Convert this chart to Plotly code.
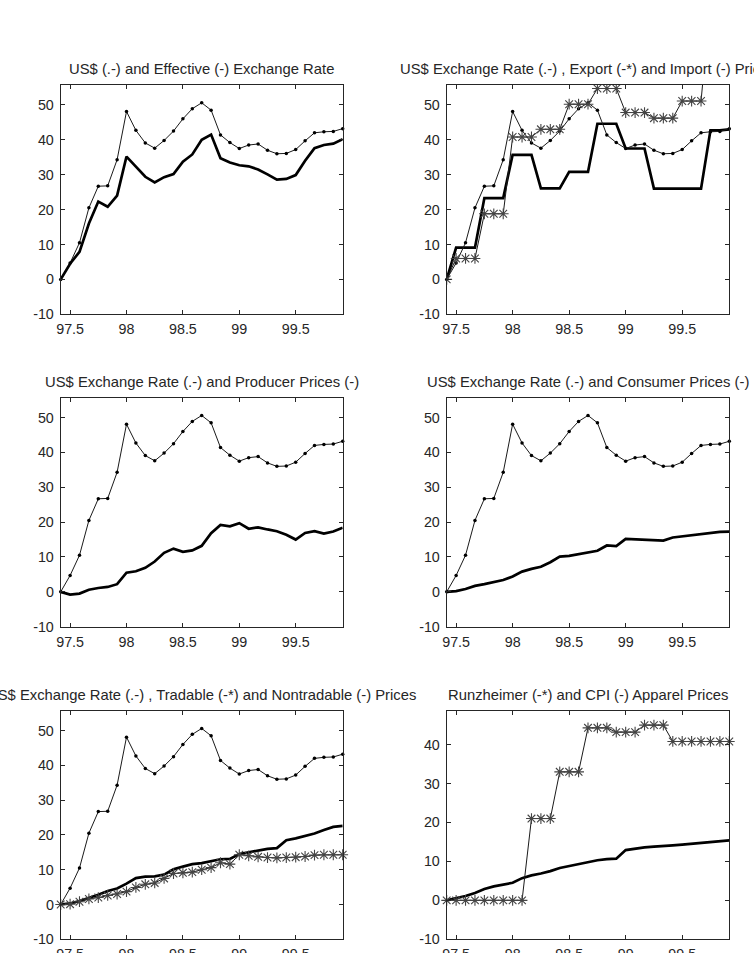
import plotly.graph_objects as go

# ---------------- data ----------------
months = [97.4167, 97.5, 97.5833, 97.6667, 97.75, 97.8333, 97.9167,
          98.0, 98.0833, 98.1667, 98.25, 98.3333, 98.4167, 98.5, 98.5833,
          98.6667, 98.75, 98.8333, 98.9167, 99.0, 99.0833, 99.1667, 99.25,
          99.3333, 99.4167, 99.5, 99.5833, 99.6667, 99.75, 99.8333, 99.9167]

us_rate = [0, 4.7, 10.5, 20.5, 26.7, 26.8, 34.3, 48.1, 42.7, 39.1, 37.6, 39.8,
           42.5, 46.0, 48.9, 50.6, 48.5, 41.4, 39.2, 37.5, 38.5, 38.8, 37.0,
           36.0, 36.1, 37.2, 39.7, 42.0, 42.3, 42.4, 43.2]

effective_rate = [0, 4.5, 7.9, 16.0, 22.3, 20.8, 24.0, 35.2, 32.3, 29.4, 27.8,
                  29.3, 30.2, 33.7, 35.8, 40.0, 41.5, 34.7, 33.5, 32.7, 32.4,
                  31.5, 30.1, 28.6, 28.8, 29.9, 34.0, 37.6, 38.5, 38.9, 40.2]

export_prices = [0, 6.0, 6.0, 6.0, 18.8, 18.8, 18.8, 40.8, 40.8, 40.8, 43.0,
                 43.0, 43.0, 50.2, 50.2, 50.2, 54.7, 54.7, 54.7, 47.8, 47.8,
                 47.8, 46.2, 46.2, 46.2, 51.1, 51.1, 51.1, 80.0, 80.0, 80.0]

import_prices = [0, 9.1, 9.1, 9.1, 23.3, 23.3, 23.3, 35.7, 35.7, 35.7, 26.1,
                 26.1, 26.1, 30.8, 30.8, 30.8, 44.6, 44.6, 44.6, 37.5, 37.5,
                 37.5, 26.0, 26.0, 26.0, 26.0, 26.0, 26.0, 42.7, 42.7, 43.0]

producer_prices = [0, -0.8, -0.5, 0.6, 1.1, 1.4, 2.2, 5.5, 5.9, 6.9, 8.7,
                   11.2, 12.4, 11.5, 11.9, 13.2, 16.8, 19.2, 18.8, 19.7, 18.1,
                   18.5, 17.9, 17.4, 16.4, 15.0, 16.9, 17.4, 16.7, 17.3, 18.4]

consumer_prices = [0, 0.2, 0.8, 1.7, 2.2, 2.8, 3.4, 4.4, 5.8, 6.6, 7.2, 8.5,
                   10.1, 10.3, 10.8, 11.2, 11.8, 13.3, 13.1, 15.2, 15.1, 14.9,
                   14.7, 14.7, 15.6, 15.9, 16.2, 16.7, 17.0, 17.2, 17.3]

tradable_prices = [0, 0.1, 0.8, 1.6, 2.0, 2.6, 3.0, 3.7, 4.9, 5.8, 6.2, 7.5,
                   8.9, 9.1, 9.3, 10.0, 10.6, 12.0, 11.6, 14.3, 14.0, 13.7,
                   13.5, 13.4, 13.5, 13.6, 13.8, 14.2, 14.3, 14.3, 14.3]

nontradable_prices = [0, 0.3, 1.0, 1.8, 2.8, 3.9, 4.6, 6.0, 7.6, 8.0, 8.1,
                      8.6, 10.1, 10.9, 11.6, 11.9, 12.5, 13.0, 13.1, 14.5,
                      15.0, 15.6, 16.0, 16.2, 18.5, 19.0, 19.6, 20.4, 21.4,
                      22.3, 22.6]

runzheimer_apparel = [0, 0, 0, 0, 0, 0, 0, 0, 0, 21.0, 21.0, 21.0, 33.0,
                      33.0, 33.0, 44.3, 44.3, 44.3, 43.2, 43.2, 43.2, 45.0,
                      45.0, 45.0, 40.8, 40.8, 40.8, 40.8, 40.8, 40.8, 40.8]

cpi_apparel = [0, 0.5, 1.1, 1.9, 2.9, 3.6, 4.0, 4.5, 5.7, 6.4, 6.9, 7.5, 8.3,
               8.8, 9.3, 9.8, 10.3, 10.6, 10.7, 12.9, 13.3, 13.6, 13.8, 13.9,
               14.1, 14.3, 14.5, 14.7, 14.9, 15.1, 15.4]

x_tickvals = [97.5, 98, 98.5, 99, 99.5]
x_ticktext = ["97.5", "98", "98.5", "99", "99.5"]
y_tickvals = [-10, 0, 10, 20, 30, 40, 50]
y_ticktext = ["-10", "0", "10", "20", "30", "40", "50"]

titles = [
    "US$ (.-) and Effective (-) Exchange Rate",
    "US$ Exchange Rate (.-) , Export (-*) and Import (-) Prices",
    "US$ Exchange Rate (.-) and Producer Prices (-)",
    "US$ Exchange Rate (.-) and Consumer Prices (-)",
    "US$ Exchange Rate (.-) , Tradable (-*) and Nontradable (-) Prices",
    "Runzheimer (-*) and CPI (-) Apparel Prices",
]

# ---------------- layout geometry ----------------
W, H = 754, 953
col_px = [(60.7, 342.7), (446.7, 729.3)]
row_px = [(85.0, 314.3), (397.7, 626.7), (710.7, 939.3)]
y_ranges = [[-10, 55.7]] * 5 + [[-10, 48.7]]

INK = "#262626"
FONT = "Liberation Sans, Arial, Helvetica, sans-serif"

fig = go.Figure()

def thin_dots(ax, vals):
    return go.Scatter(x=months, y=vals, mode="lines+markers",
                      line=dict(color="#1a1a1a", width=1),
                      marker=dict(symbol="circle", size=3.5, color="#000000"),
                      xaxis="x" + ax, yaxis="y" + ax, showlegend=False,
                      cliponaxis=False)

def thick(ax, vals):
    return go.Scatter(x=months, y=vals, mode="lines",
                      line=dict(color="#000000", width=2.7),
                      xaxis="x" + ax, yaxis="y" + ax, showlegend=False)

def stars(ax, vals, clip=False):
    return go.Scatter(x=months, y=vals, mode="lines+markers",
                      line=dict(color="#1a1a1a", width=1),
                      marker=dict(symbol="asterisk-open", size=9,
                                  color="#444444",
                                  line=dict(color="#444444", width=1.1)),
                      xaxis="x" + ax, yaxis="y" + ax, showlegend=False,
                      cliponaxis=clip)

# panel 1
fig.add_trace(thin_dots("", us_rate))
fig.add_trace(thick("", effective_rate))
# panel 2
fig.add_trace(thick("2", import_prices))
fig.add_trace(thin_dots("2", us_rate))
fig.add_trace(stars("2", export_prices, clip=True))
# panel 3
fig.add_trace(thin_dots("3", us_rate))
fig.add_trace(thick("3", producer_prices))
# panel 4
fig.add_trace(thin_dots("4", us_rate))
fig.add_trace(thick("4", consumer_prices))
# panel 5
fig.add_trace(thin_dots("5", us_rate))
fig.add_trace(thick("5", nontradable_prices))
fig.add_trace(stars("5", tradable_prices))
# panel 6
fig.add_trace(thick("6", cpi_apparel))
fig.add_trace(stars("6", runzheimer_apparel))

layout = dict(width=W, height=H, autosize=False,
              margin=dict(l=0, r=0, t=0, b=0, pad=0),
              paper_bgcolor="white", plot_bgcolor="white",
              font=dict(family=FONT, color=INK, size=14))
annotations = []
for i in range(6):
    r, c = divmod(i, 2)
    x0, x1 = col_px[c]
    y0, y1 = row_px[r]
    sx = "" if i == 0 else str(i + 1)
    dom_x = [x0 / W, x1 / W]
    dom_y = [1 - y1 / H, 1 - y0 / H]
    layout["xaxis" + sx] = dict(
        domain=dom_x, range=[97.4167, 99.9167], anchor="y" + sx,
        tickvals=x_tickvals, ticktext=x_ticktext, automargin=False,
        ticks="inside", ticklen=4, tickwidth=1, tickcolor=INK,
        showline=True, linecolor=INK, linewidth=1, mirror="allticks",
        showgrid=False, zeroline=False, tickfont=dict(size=14.3, color=INK),
        ticklabelstandoff=2, fixedrange=True)
    yr = y_ranges[i]
    tv = [v for v in y_tickvals if v <= yr[1]]
    tt = [t for v, t in zip(y_tickvals, y_ticktext) if v <= yr[1]]
    layout["yaxis" + sx] = dict(
        domain=dom_y, range=yr, anchor="x" + sx,
        tickvals=tv, ticktext=tt, automargin=False,
        ticks="inside", ticklen=4, tickwidth=1, tickcolor=INK,
        showline=True, linecolor=INK, linewidth=1, mirror="allticks",
        showgrid=False, zeroline=False, tickfont=dict(size=14.3, color=INK),
        ticklabelstandoff=3, fixedrange=True)
    annotations.append(dict(
        text=titles[i], xref="paper", yref="paper",
        x=(dom_x[0] + dom_x[1]) / 2, y=dom_y[1], xanchor="center",
        yanchor="bottom", yshift=6, showarrow=False,
        font=dict(size=14.8, color=INK, family=FONT)))
layout["annotations"] = annotations

fig.update_layout(**layout)
fig.write_html("out.html", config={"responsive": False})
